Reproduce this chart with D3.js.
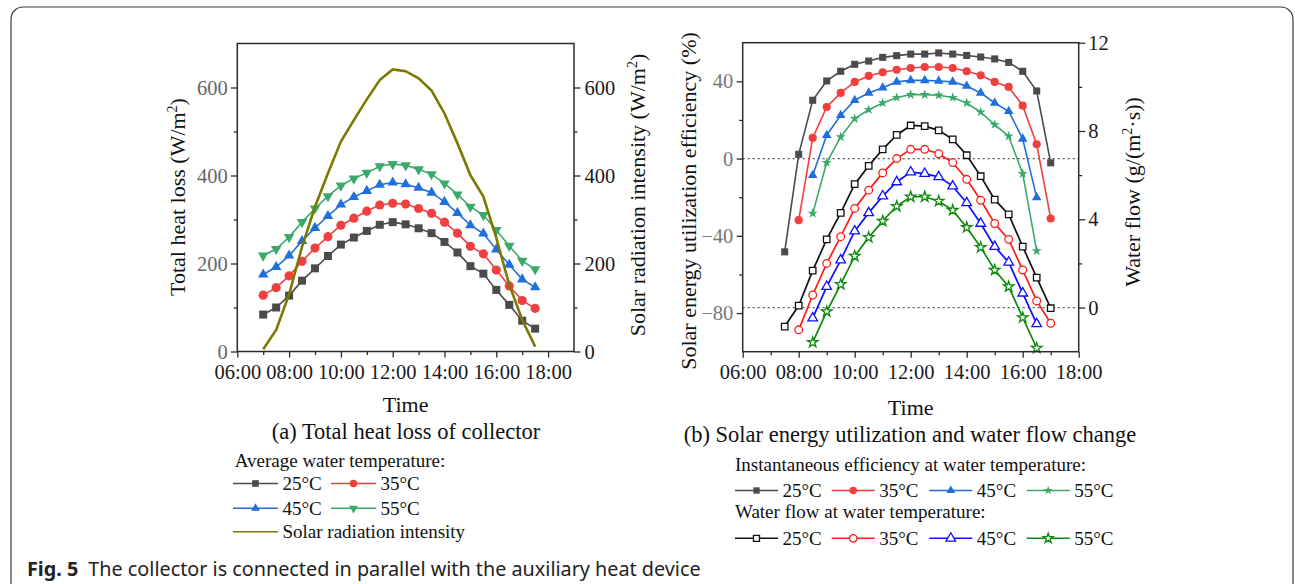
<!doctype html>
<html lang="en">
<head>
<meta charset="utf-8"/>
<title>Fig. 5</title>
<script src="https://d3js.org/d3.v7.min.js"></script>
<style>
  body { margin: 0; background: #fff; }
</style>
</head>
<body>
<svg id="fig" width="1295" height="584"></svg>
<script>
// ---- chart (a): total heat loss, 07:00 - 17:30 every half hour ----
var timeA = [7, 7.5, 8, 8.5, 9, 9.5, 10, 10.5, 11, 11.5, 12, 12.5, 13, 13.5, 14, 14.5, 15, 15.5, 16, 16.5, 17, 17.5];
var heat25 = [84, 100, 127, 161, 189, 217, 243, 259, 274, 288, 294, 289, 280, 269, 249, 225, 194, 177, 140, 106, 70, 52];
var heat35 = [128, 145, 172, 205, 235, 261, 287, 303, 319, 333, 337, 335, 325, 314, 294, 269, 239, 222, 185, 149, 116, 98];
var heat45 = [175, 192, 218, 251, 281, 308, 334, 351, 365, 379, 384, 380, 372, 361, 340, 315, 287, 268, 232, 197, 164, 146];
var heat55 = [218, 233, 260, 294, 325, 353, 377, 393, 406, 421, 426, 423, 414, 403, 382, 357, 329, 310, 276, 240, 206, 187];
var solarRad = [5, 49, 130, 238, 329, 405, 477, 526, 573, 617, 641, 637, 621, 593, 541, 473, 401, 352, 258, 152, 72, 11];

// ---- chart (b): efficiency (%) and water flow (g/(m2*s)) ----
var timeB25 = [7.5, 8, 8.5, 9, 9.5, 10, 10.5, 11, 11.5, 12, 12.5, 13, 13.5, 14, 14.5, 15, 15.5, 16, 16.5, 17];
var timeB35 = [8, 8.5, 9, 9.5, 10, 10.5, 11, 11.5, 12, 12.5, 13, 13.5, 14, 14.5, 15, 15.5, 16, 16.5, 17];
var timeB45 = [8.5, 9, 9.5, 10, 10.5, 11, 11.5, 12, 12.5, 13, 13.5, 14, 14.5, 15, 15.5, 16, 16.5];
var timeB55 = [8.5, 9, 9.5, 10, 10.5, 11, 11.5, 12, 12.5, 13, 13.5, 14, 14.5, 15, 15.5, 16, 16.5];
var eff25 = [-48.3, 2.2, 30.2, 40.2, 45.2, 48.8, 50.5, 52.4, 53.3, 54.1, 54.1, 54.7, 54.1, 53.4, 52.6, 51.6, 49.8, 45.2, 35, -2.2];
var eff35 = [-31.9, 10.7, 26.7, 34, 39.7, 42.8, 44.7, 46, 46.9, 47.4, 47.4, 46.9, 45.2, 43.1, 39.7, 37.1, 27.4, 7.4, -31];
var eff45 = [-8.6, 12.1, 22.4, 30.2, 34, 36.7, 39.7, 40.5, 40.5, 40.2, 39.7, 37.6, 34, 28.8, 24.5, 10.2, -20.2];
var eff55 = [-28.4, -2.1, 11.2, 20.7, 25.3, 28.8, 31.6, 33.1, 33.1, 32.8, 31.6, 28.8, 24.1, 17.6, 11.6, -7.8, -47.8];
var flow25 = [-0.86, 0.09, 1.67, 3.09, 4.29, 5.59, 6.42, 7.17, 7.82, 8.25, 8.22, 8.03, 7.62, 6.9, 5.95, 4.89, 4.22, 2.76, 1.36, -0.03];
var flow35 = [-1.01, 0.57, 2.0, 3.21, 4.49, 5.32, 6.1, 6.75, 7.17, 7.17, 6.97, 6.57, 5.81, 4.86, 3.81, 3.09, 1.7, 0.3, -0.71];
var flow45 = [-0.48, 0.95, 2.15, 3.46, 4.29, 5.05, 5.69, 6.14, 6.07, 5.92, 5.5, 4.74, 3.81, 2.76, 2.05, 0.65, -0.74];
var flow55 = [-1.58, -0.18, 1.05, 2.33, 3.18, 3.92, 4.59, 5.02, 5.02, 4.82, 4.41, 3.63, 2.73, 1.7, 0.95, -0.45, -1.84];

// ---- ticks / labels ----
var hourTicks = [6, 8, 10, 12, 14, 16, 18];
var hourLabels = ["06:00", "08:00", "10:00", "12:00", "14:00", "16:00", "18:00"];
var hourMinor = [7, 9, 11, 13, 15, 17];
var heatTicks = [0, 200, 400, 600];
var heatMinor = [100, 300, 500];
var effTicks = [-80, -40, 0, 40];
var effMinor = [-60, -20, 20];
var flowTicks = [0, 4, 8, 12];
var flowMinor = [2, 6, 10];
var tempLabels = ["25°C", "35°C", "45°C", "55°C"];

var serif = "'Liberation Serif', 'Times New Roman', serif";
var svg = d3.select("#fig");

svg.append("rect").attr("width", 1295).attr("height", 584).attr("fill", "#fff");
// outer rounded border of the figure box
svg.append("rect")
  .attr("x", 11).attr("y", 7).attr("width", 1282).attr("height", 700)
  .attr("rx", 12).attr("fill", "none").attr("stroke", "#3a3a3a").attr("stroke-width", 1.2);

function fmtHour(h) { return hourLabels[hourTicks.indexOf(h)]; }

function styleAxis(g, color) {
  g.select(".domain").remove();
  g.attr("font-family", serif).attr("font-size", 20.5);
  g.selectAll(".tick line").attr("stroke", "#2b2b2b").attr("stroke-width", 1.3);
  g.selectAll(".tick text").attr("fill", color);
}

function addAxis(gen, tr, color) {
  var g = svg.append("g").attr("transform", tr).call(gen);
  styleAxis(g, color);
  return g;
}

function frame(b) {
  svg.append("rect")
    .attr("x", b.left).attr("y", b.top)
    .attr("width", b.right - b.left).attr("height", b.bottom - b.top)
    .attr("fill", "none").attr("stroke", "#2b2b2b").attr("stroke-width", 1.5);
}

function vTitle(x, y, parts) {
  var t = svg.append("text")
    .attr("transform", "translate(" + x + "," + y + ") rotate(-90)")
    .attr("text-anchor", "middle")
    .style("font-family", serif).style("font-size", "22px").attr("fill", "#111");
  parts.forEach(function(p) {
    var s = t.append("tspan").text(p.t);
    if (p.sup) s.attr("dy", -8).style("font-size", "14px");
    if (p.back) s.attr("dy", 8);
  });
}

function symPath(type, size) { return d3.symbol().type(type).size(size)(); }

function series(xs, ys, x, y, col, type, size, open, rot, lw) {
  var pts = xs.map(function(t, i) { return [x(t), y(ys[i])]; });
  svg.append("path")
    .attr("d", d3.line()(pts))
    .attr("fill", "none").attr("stroke", col).attr("stroke-width", lw || 1.6);
  svg.append("g").selectAll("path")
    .data(pts).enter().append("path")
    .attr("d", symPath(type, size))
    .attr("transform", function(d) { return "translate(" + d[0] + "," + d[1] + ")" + (rot ? " rotate(180)" : ""); })
    .attr("fill", open ? "#fff" : col)
    .attr("stroke", open ? col : "none")
    .attr("stroke-width", 1.3);
}

// ================= chart (a) =================
var ba = { left: 237.3, right: 574, top: 43.5, bottom: 351.5 };
var xA = d3.scaleLinear().domain([6, 19]).range([ba.left, ba.right]);
var yA = d3.scaleLinear().domain([0, 700]).range([ba.bottom, ba.top]);

var colGray = "#4b4b4b", colRed = "#ef3f3f", colBlue = "#1f6fdc", colGreen = "#3aa96a", colOlive = "#7b7a00";

series(timeA, heat25, xA, yA, colGray, d3.symbolSquare, 64, false);
series(timeA, heat35, xA, yA, colRed, d3.symbolCircle, 66, false);
series(timeA, heat45, xA, yA, colBlue, d3.symbolTriangle, 48, false);
series(timeA, heat55, xA, yA, colGreen, d3.symbolTriangle, 48, false, true);
svg.append("path")
  .attr("d", d3.line()(timeA.map(function(t, i) { return [xA(t), yA(solarRad[i])]; })))
  .attr("fill", "none").attr("stroke", colOlive).attr("stroke-width", 2.6);

frame(ba);
addAxis(d3.axisBottom(xA).tickValues(hourTicks).tickSize(6).tickPadding(7).tickFormat(fmtHour), "translate(0," + ba.bottom + ")", "#1a1a1a");
addAxis(d3.axisBottom(xA).tickValues(hourMinor).tickSize(3.5).tickFormat(""), "translate(0," + ba.bottom + ")", "#1a1a1a");
addAxis(d3.axisLeft(yA).tickValues(heatTicks).tickSize(6.5).tickPadding(3), "translate(" + ba.left + ",0)", "#666");
addAxis(d3.axisLeft(yA).tickValues(heatMinor).tickSize(3.5).tickFormat(""), "translate(" + ba.left + ",0)", "#666");
addAxis(d3.axisRight(yA).tickValues(heatTicks).tickSize(6.5).tickPadding(4), "translate(" + ba.right + ",0)", "#1a1a1a");
addAxis(d3.axisRight(yA).tickValues(heatMinor).tickSize(3.5).tickFormat(""), "translate(" + ba.right + ",0)", "#1a1a1a");

vTitle(185, 197, [{ t: "Total heat loss (W/m" }, { t: "2", sup: true }, { t: ")", back: true }]);
vTitle(645, 195, [{ t: "Solar radiation intensity (W/m" }, { t: "2", sup: true }, { t: ")", back: true }]);

svg.append("text").attr("x", (ba.left + ba.right) / 2).attr("y", 411.5)
  .attr("text-anchor", "middle").attr("font-family", serif).attr("font-size", 22).attr("fill", "#111")
  .text("Time");
svg.append("text").attr("x", 406).attr("y", 438.5)
  .attr("text-anchor", "middle").attr("font-family", serif).attr("font-size", 22.5).attr("fill", "#111")
  .text("(a) Total heat loss of collector");

// legend (a)
function legendItem(x0, yl, len, col, type, size, open, rot, label) {
  svg.append("line").attr("x1", x0).attr("x2", x0 + len).attr("y1", yl).attr("y2", yl)
    .attr("stroke", col).attr("stroke-width", 1.6);
  if (type) {
    svg.append("path").attr("d", symPath(type, size))
      .attr("transform", "translate(" + (x0 + len / 2) + "," + yl + ")" + (rot ? " rotate(180)" : ""))
      .attr("fill", open ? "#fff" : col).attr("stroke", open ? col : "none").attr("stroke-width", 1.3);
  }
  svg.append("text").attr("x", x0 + len + 4.5).attr("y", yl + 6.5)
    .attr("font-family", serif).attr("font-size", 19).attr("fill", "#111").text(label);
}

svg.append("text").attr("x", 234.7).attr("y", 467)
  .attr("font-family", serif).attr("font-size", 19).attr("fill", "#111").text("Average water temperature:");
legendItem(233, 483.5, 45, colGray, d3.symbolSquare, 44, false, false, tempLabels[0]);
legendItem(331, 483.5, 45, colRed, d3.symbolCircle, 44, false, false, tempLabels[1]);
legendItem(233, 508.3, 45, colBlue, d3.symbolTriangle, 34, false, false, tempLabels[2]);
legendItem(331, 508.3, 45, colGreen, d3.symbolTriangle, 34, false, true, tempLabels[3]);
legendItem(233, 531.7, 45, colOlive, null, 0, false, false, "Solar radiation intensity");

// ================= chart (b) =================
var bb = { left: 742.7, right: 1078.7, top: 42.7, bottom: 351.7 };
var xB = d3.scaleLinear().domain([6, 18]).range([bb.left, bb.right]);
var yEff = d3.scaleLinear().domain([-100, 60]).range([bb.bottom, bb.top]);
var yFlow = d3.scaleLinear().domain([-2, 12]).range([bb.bottom, bb.top]);

// dotted zero lines
svg.append("line").attr("x1", bb.left).attr("x2", bb.right).attr("y1", yEff(0)).attr("y2", yEff(0))
  .attr("stroke", "#555").attr("stroke-width", 1.2).attr("stroke-dasharray", "2,3");
svg.append("line").attr("x1", bb.left).attr("x2", bb.right).attr("y1", yFlow(0)).attr("y2", yFlow(0))
  .attr("stroke", "#555").attr("stroke-width", 1.2).attr("stroke-dasharray", "2,3");

var oBlack = "#111", oRed = "#ff1a1a", oBlue = "#1010ff", oGreen = "#0b8a0b";

series(timeB25, flow25, xB, yFlow, oBlack, d3.symbolSquare, 42, true, false, 1.7);
series(timeB35, flow35, xB, yFlow, oRed, d3.symbolCircle, 46, true, false, 1.7);
series(timeB45, flow45, xB, yFlow, oBlue, d3.symbolTriangle, 40, true, false, 1.7);
series(timeB55, flow55, xB, yFlow, oGreen, d3.symbolStar, 34, true, false, 1.7);

series(timeB25, eff25, xB, yEff, colGray, d3.symbolSquare, 50, false);
series(timeB35, eff35, xB, yEff, colRed, d3.symbolCircle, 52, false);
series(timeB45, eff45, xB, yEff, colBlue, d3.symbolTriangle, 40, false);
series(timeB55, eff55, xB, yEff, colGreen, d3.symbolStar, 32, false);

frame(bb);
addAxis(d3.axisBottom(xB).tickValues(hourTicks).tickSize(6).tickPadding(7).tickFormat(fmtHour), "translate(0," + bb.bottom + ")", "#1a1a1a");
addAxis(d3.axisBottom(xB).tickValues(hourMinor).tickSize(3.5).tickFormat(""), "translate(0," + bb.bottom + ")", "#1a1a1a");
addAxis(d3.axisLeft(yEff).tickValues(effTicks).tickSize(6).tickPadding(3.5), "translate(" + bb.left + ",0)", "#777");
addAxis(d3.axisLeft(yEff).tickValues(effMinor).tickSize(3.5).tickFormat(""), "translate(" + bb.left + ",0)", "#777");
addAxis(d3.axisRight(yFlow).tickValues(flowTicks).tickSize(6.5).tickPadding(3), "translate(" + bb.right + ",0)", "#1a1a1a");
addAxis(d3.axisRight(yFlow).tickValues(flowMinor).tickSize(3.5).tickFormat(""), "translate(" + bb.right + ",0)", "#1a1a1a");

vTitle(696, 201, [{ t: "Solar energy utilization efficiency (%)" }]);
vTitle(1140, 192, [{ t: "Water flow (g/(m" }, { t: "2", sup: true }, { t: "·s))", back: true }]);

svg.append("text").attr("x", (bb.left + bb.right) / 2).attr("y", 414.5)
  .attr("text-anchor", "middle").attr("font-family", serif).attr("font-size", 22).attr("fill", "#111")
  .text("Time");
svg.append("text").attr("x", 910).attr("y", 441.5)
  .attr("text-anchor", "middle").attr("font-family", serif).attr("font-size", 22.5).attr("fill", "#111")
  .text("(b) Solar energy utilization and water flow change");

// legend (b)
var colsB = [735, 831.7, 929.3, 1026.7];
svg.append("text").attr("x", 735).attr("y", 470.7)
  .attr("font-family", serif).attr("font-size", 19).attr("fill", "#111").text("Instantaneous efficiency at water temperature:");
legendItem(colsB[0], 490.5, 43, colGray, d3.symbolSquare, 40, false, false, tempLabels[0]);
legendItem(colsB[1], 490.5, 43, colRed, d3.symbolCircle, 44, false, false, tempLabels[1]);
legendItem(colsB[2], 490.5, 43, colBlue, d3.symbolTriangle, 34, false, false, tempLabels[2]);
legendItem(colsB[3], 490.5, 43, colGreen, d3.symbolStar, 26, false, false, tempLabels[3]);
svg.append("text").attr("x", 735).attr("y", 518.3)
  .attr("font-family", serif).attr("font-size", 19).attr("fill", "#111").text("Water flow at water temperature:");
legendItem(colsB[0], 538.3, 43, oBlack, d3.symbolSquare, 36, true, false, tempLabels[0]);
legendItem(colsB[1], 538.3, 43, oRed, d3.symbolCircle, 44, true, false, tempLabels[1]);
legendItem(colsB[2], 538.3, 43, oBlue, d3.symbolTriangle, 40, true, false, tempLabels[2]);
legendItem(colsB[3], 538.3, 43, oGreen, d3.symbolStar, 30, true, false, tempLabels[3]);

// figure caption
var cap = svg.append("text").attr("x", 27).attr("y", 576)
  .attr("font-family", "'Noto Sans', 'Open Sans', sans-serif").attr("font-size", 19.8).attr("fill", "#222");
cap.append("tspan").attr("font-weight", "bold").text("Fig. 5");
cap.append("tspan").attr("dx", 10).text("The collector is connected in parallel with the auxiliary heat device");
</script>
</body>
</html>
